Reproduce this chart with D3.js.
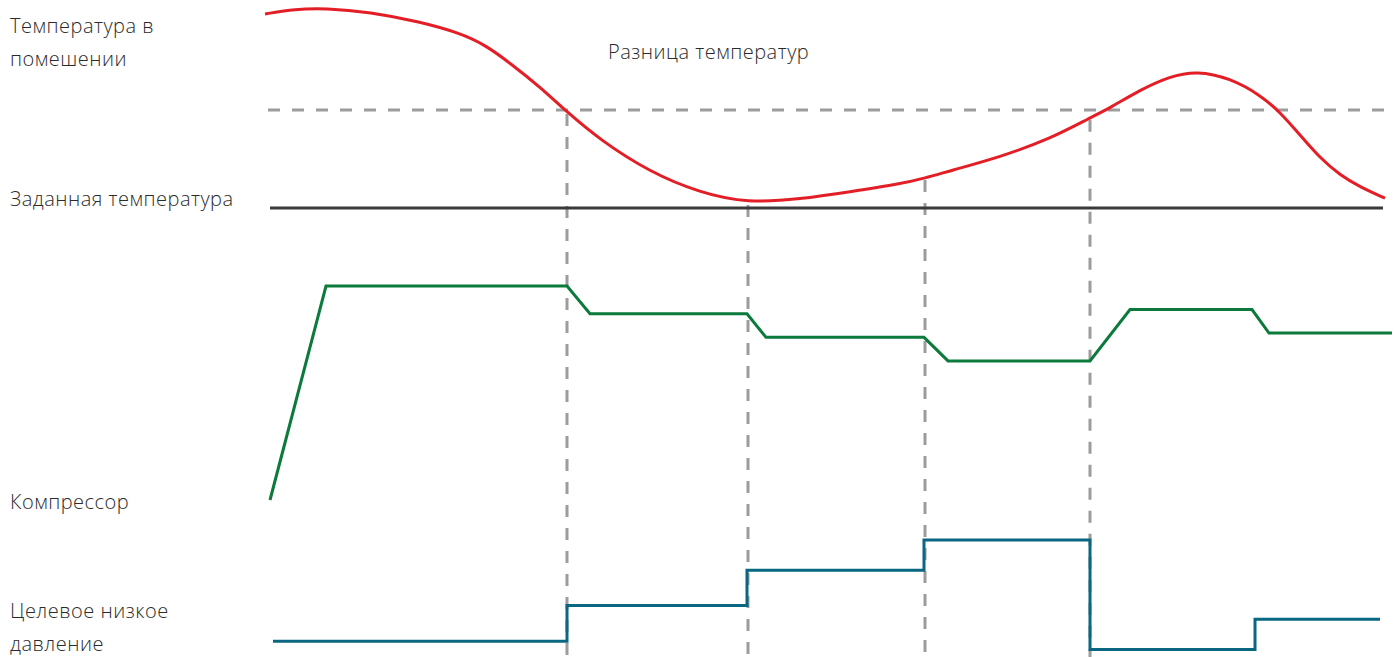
<!DOCTYPE html>
<html>
<head>
<meta charset="utf-8">
<script src="https://cdn.jsdelivr.net/npm/d3@7"></script>
<style>
  html, body { margin: 0; padding: 0; background: #fff; }
  svg { display: block; }
  .lbl { font-family: "Open Sans", sans-serif; font-weight: 300; font-size: 20px; letter-spacing: 0.5px; fill: #2b2b2b; }
</style>
</head>
<body>
<svg id="chart" width="1400" height="657"></svg>
<script>
// ---- data (time in minutes) ----
const roomTime = [0, 3, 6, 10.5, 15.5, 19.5, 22, 24.5, 27.5, 30.2, 33.5, 38.5, 43.5, 48.3, 53.5, 58.5, 63.5, 66, 68.5, 73.5, 78.5, 82.5, 84.5, 87.5, 90.5, 93.2, 96.5, 99.5, 101.5, 103.5, 105.5, 107.5, 109.5, 112];
const roomTemp = [23.96, 24.06, 24.08, 24.0, 23.8, 23.57, 23.33, 22.96, 22.47, 21.96, 21.39, 20.73, 20.31, 20.1, 20.18, 20.33, 20.49, 20.61, 20.76, 21.04, 21.41, 21.84, 22.04, 22.41, 22.69, 22.8, 22.65, 22.31, 21.96, 21.49, 21.02, 20.67, 20.43, 20.2];

const setpoint = 20;          // заданная температура
const diffThreshold = 22;     // разница температур
const setpointSpan = [0.5, 111.8];
const diffSpan = [0.3, 112];

const eventTimes = [30.2, 48.3, 66, 82.5];

const compTime = [0.5, 6.1, 30.2, 32.5, 48.2, 50.1, 65.9, 68.3, 82.5, 86.5, 98.7, 100.4, 112.7];
const compLoad = [0, 100, 100, 87, 87, 76, 76, 65, 65, 89, 89, 78, 78];

const pressTime = [0.8, 30.2, 48.2, 65.9, 82.5, 99, 111.5];
const pressVal  = [2.16, 2.81, 3.45, 4.0, 2.01, 2.56, 2.56];

const labels = [
  { lines: ["Температура в", "помешении"], x: 10, y: 33 },
  { lines: ["Заданная температура"], x: 10, y: 206 },
  { lines: ["Компрессор"], x: 10, y: 509 },
  { lines: ["Целевое низкое", "давление"], x: 10, y: 618 }
];
const diffLabel = { text: "Разница температур", x: 608, y: 59 };

// ---- scales ----
const x = d3.scaleLinear().domain([0, 113]).range([265, 1395]);
const yTemp = d3.scaleLinear().domain([20, 24]).range([208, 12]);
const yComp = d3.scaleLinear().domain([0, 100]).range([500, 286]);
const yPress = d3.scaleLinear().domain([2, 4]).range([650, 540]);

const svg = d3.select("#chart");

// vertical event lines (from red curve down to bottom)
const roomInterp = t => {
  const i = d3.bisectLeft(roomTime, t);
  if (i <= 0) return roomTemp[0];
  const t0 = roomTime[i-1], t1 = roomTime[i];
  return roomTemp[i-1] + (roomTemp[i] - roomTemp[i-1]) * (t - t0) / (t1 - t0);
};
svg.append("g").selectAll("line").data(eventTimes).join("line")
  .attr("x1", d => x(d)).attr("x2", d => x(d))
  .attr("y1", d => Math.max(yTemp(roomInterp(d)), yTemp(diffThreshold)) + 2)
  .attr("y2", 657)
  .attr("stroke", "#9c9c9e").attr("stroke-width", 3)
  .attr("stroke-dasharray", "12,11");

// dashed threshold
svg.append("line")
  .attr("x1", x(diffSpan[0])).attr("x2", x(diffSpan[1]))
  .attr("y1", yTemp(diffThreshold)).attr("y2", yTemp(diffThreshold))
  .attr("stroke", "#9c9c9e").attr("stroke-width", 3)
  .attr("stroke-dasharray", "12,12");

// setpoint
svg.append("line")
  .attr("x1", x(setpointSpan[0])).attr("x2", x(setpointSpan[1]))
  .attr("y1", yTemp(setpoint)).attr("y2", yTemp(setpoint))
  .attr("stroke", "#3a3a3a").attr("stroke-width", 3);

// room temp curve
const roomData = roomTime.map((t, i) => [t, roomTemp[i]]);
svg.append("path").datum(roomData)
  .attr("d", d3.line().x(d => x(d[0])).y(d => yTemp(d[1])).curve(d3.curveBasis))
  .attr("fill", "none").attr("stroke", "#e31e26").attr("stroke-width", 3);

// compressor
const compData = compTime.map((t, i) => [t, compLoad[i]]);
svg.append("path").datum(compData)
  .attr("d", d3.line().x(d => x(d[0])).y(d => yComp(d[1])))
  .attr("fill", "none").attr("stroke", "#0b7a3b").attr("stroke-width", 3)
  .attr("stroke-linejoin", "miter");

// pressure
const pressData = pressTime.map((t, i) => [t, pressVal[i]]);
svg.append("path").datum(pressData)
  .attr("d", d3.line().x(d => x(d[0])).y(d => yPress(d[1])).curve(d3.curveStepAfter))
  .attr("fill", "none").attr("stroke", "#0a6782").attr("stroke-width", 3);

// labels
labels.forEach(l => {
  const t = svg.append("text").attr("class", "lbl").attr("x", l.x).attr("y", l.y);
  l.lines.forEach((s, i) => {
    t.append("tspan").attr("x", l.x).attr("dy", i === 0 ? 0 : 33).text(s);
  });
});
svg.append("text").attr("class", "lbl").attr("x", diffLabel.x).attr("y", diffLabel.y).text(diffLabel.text);
</script>
</body>
</html>
